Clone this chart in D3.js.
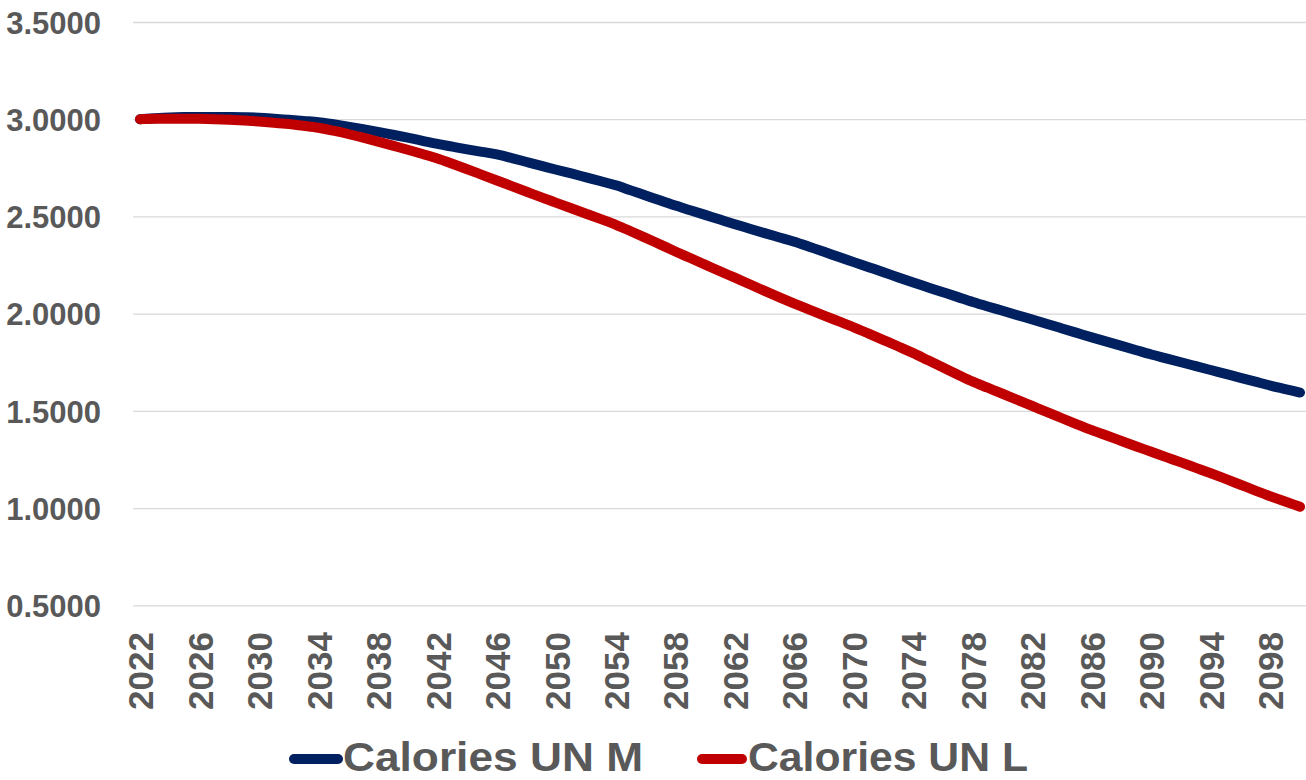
<!DOCTYPE html>
<html>
<head>
<meta charset="utf-8">
<script src="https://cdn.jsdelivr.net/npm/d3@7"></script>
<style>
  html, body { margin: 0; padding: 0; background: #ffffff; }
  svg { display: block; font-family: "Liberation Sans", Arial, sans-serif; }
</style>
</head>
<body>
<svg id="chart" width="1306" height="780"></svg>
<script>
const years = d3.range(2022, 2101);
const seriesNames = ["Calories UN M", "Calories UN L"];
const seriesColors = ["#002060", "#C00000"];
const caloriesUNM = [
  3.000, 3.005, 3.009, 3.011, 3.012, 3.012, 3.011, 3.010, 3.008, 3.003,
  2.997, 2.991, 2.985, 2.974, 2.962, 2.949, 2.935, 2.920, 2.905, 2.889,
  2.873, 2.859, 2.845, 2.832, 2.819, 2.800, 2.780, 2.760, 2.740, 2.721,
  2.701, 2.681, 2.660, 2.634, 2.608, 2.582, 2.556, 2.532, 2.508, 2.484,
  2.460, 2.437, 2.414, 2.392, 2.370, 2.344, 2.318, 2.291, 2.265, 2.239,
  2.213, 2.186, 2.160, 2.135, 2.110, 2.085, 2.060, 2.037, 2.015, 1.992,
  1.970, 1.947, 1.924, 1.901, 1.878, 1.856, 1.834, 1.812, 1.790, 1.770,
  1.750, 1.730, 1.710, 1.690, 1.670, 1.650, 1.630, 1.612, 1.594
];
const caloriesUNL = [
  3.000, 3.002, 3.003, 3.003, 3.002, 3.000, 2.997, 2.993, 2.988, 2.982,
  2.975, 2.966, 2.956, 2.941, 2.924, 2.905, 2.885, 2.864, 2.843, 2.821,
  2.798, 2.771, 2.743, 2.714, 2.685, 2.656, 2.627, 2.598, 2.570, 2.542,
  2.514, 2.486, 2.457, 2.424, 2.390, 2.355, 2.320, 2.286, 2.252, 2.218,
  2.185, 2.151, 2.117, 2.084, 2.052, 2.021, 1.990, 1.960, 1.930, 1.897,
  1.864, 1.831, 1.797, 1.760, 1.723, 1.686, 1.650, 1.619, 1.588, 1.556,
  1.525, 1.494, 1.462, 1.431, 1.401, 1.373, 1.345, 1.317, 1.290, 1.262,
  1.235, 1.207, 1.179, 1.150, 1.120, 1.090, 1.061, 1.034, 1.007
];
const yTicks = [0.5, 1.0, 1.5, 2.0, 2.5, 3.0, 3.5];
const xTickLabels = years.filter((y, i) => i % 4 === 0);

const svg = d3.select("#chart");
const textColor = "#595959";

const x = d3.scalePoint().domain(years).range([140, 1300]);
const y = d3.scaleLinear().domain([0.5, 3.5]).range([605.3, 22]);

// gridlines
const grid = svg.append("g").attr("transform", "translate(133,0)")
  .call(d3.axisLeft(y).tickValues(yTicks).tickSize(-1173).tickFormat(""));
grid.select(".domain").remove();
grid.selectAll("line").attr("stroke", "#D9D9D9").attr("stroke-width", 1.3);

// y axis labels
const yAxis = svg.append("g").attr("transform", "translate(101,0)")
  .call(d3.axisLeft(y).tickValues(yTicks).tickSize(0).tickPadding(0).tickFormat(d3.format(".4f")));
yAxis.select(".domain").remove();
yAxis.selectAll("text")
  .attr("fill", textColor)
  .style("font-size", "31px")
  .style("font-weight", "bold")
  .attr("dy", "0.36em");

// x axis labels
const xAxis = svg.append("g").attr("transform", "translate(0,632)")
  .call(d3.axisBottom(x).tickValues(xTickLabels).tickSize(0).tickPadding(0));
xAxis.select(".domain").remove();
xAxis.selectAll("text")
  .attr("fill", textColor)
  .style("font-size", "35px")
  .style("font-weight", "bold")
  .attr("text-anchor", "end")
  .attr("transform", "rotate(-90)")
  .attr("x", 0)
  .attr("y", 0)
  .attr("dx", 0)
  .attr("dy", "0.36em");

// lines
const allSeries = [caloriesUNM, caloriesUNL];
const line = d3.line().curve(d3.curveMonotoneX).x((d, i) => x(years[i])).y(d => y(d));
allSeries.forEach((vals, k) => {
  svg.append("path")
    .datum(vals)
    .attr("fill", "none")
    .attr("stroke", seriesColors[k])
    .attr("stroke-width", 10)
    .attr("stroke-linecap", "round")
    .attr("stroke-linejoin", "round")
    .attr("d", line);
});

// legend
const legendItems = [
  { x0: 294, x1: 338, tx: 343, tl: 300 },
  { x0: 702, x1: 742, tx: 748, tl: 280 }
];
legendItems.forEach((it, k) => {
  const g = svg.append("g");
  g.append("line")
    .attr("x1", it.x0).attr("x2", it.x1)
    .attr("y1", 759).attr("y2", 759)
    .attr("stroke", seriesColors[k])
    .attr("stroke-width", 10)
    .attr("stroke-linecap", "round");
  g.append("text")
    .attr("x", it.tx).attr("y", 771)
    .attr("fill", textColor)
    .style("font-size", "40px")
    .style("font-weight", "bold")
    .attr("textLength", it.tl)
    .attr("lengthAdjust", "spacingAndGlyphs")
    .text(seriesNames[k]);
});
</script>
</body>
</html>
